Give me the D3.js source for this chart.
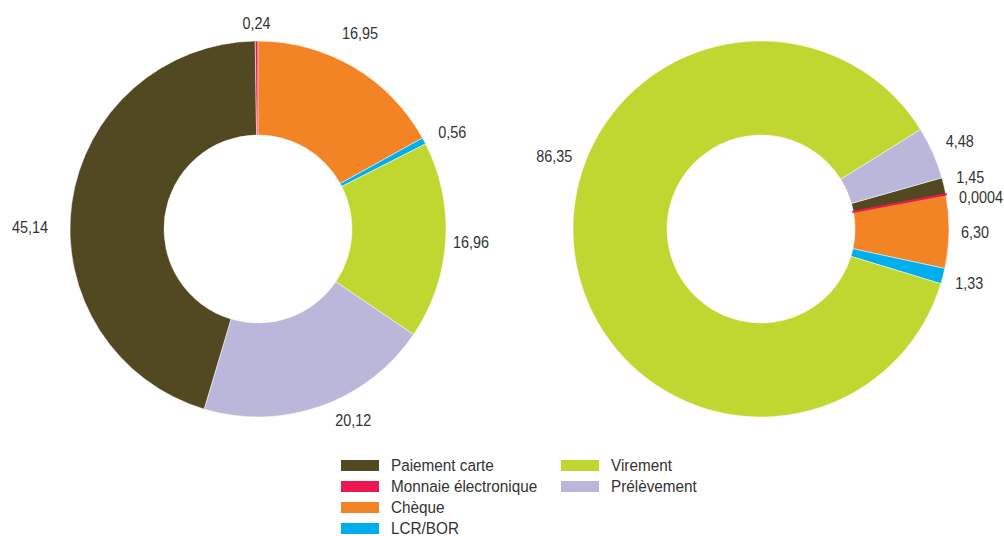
<!DOCTYPE html>
<html>
<head>
<meta charset="utf-8">
<script src="https://cdn.jsdelivr.net/npm/d3@7"></script>
<style>
  body { margin: 0; background: #fff; }
  svg { display: block; }
  text { font-family: "Liberation Sans", Arial, sans-serif; fill: #333; }
</style>
</head>
<body>
<svg id="chart" width="1004" height="536"></svg>
<script>
// Payment instruments, in drawing order (clockwise)
const categories = ["Paiement carte", "Monnaie électronique", "Chèque", "LCR/BOR", "Virement", "Prélèvement"];
const colors = ["#524822", "#ed1651", "#f28425", "#00aeef", "#bfd730", "#bbb7da"];

// Shares (%) for each instrument
const valuesLeft  = [45.14, 0.24, 16.95, 0.56, 16.96, 20.12];
const valuesRight = [1.45, 0.0004, 6.30, 1.33, 86.35, 4.48];

// Legend layout: two columns
const legendColumns = [
  ["Paiement carte", "Monnaie électronique", "Chèque", "LCR/BOR"],
  ["Virement", "Prélèvement"]
];

const svg = d3.select("#chart");
const outerR = 188, innerR = 94;
const condense = 0.9;  // narrow face look

const locale = d3.formatLocale({ decimal: ",", thousands: " ", grouping: [3], currency: ["", " €"] });
const fmt = v => locale.format(v < 0.01 ? ".4f" : ".2f")(v);

// label nudges per slice: [angle shift in degrees, extra radial distance]
const donuts = [
  { values: valuesLeft, cx: 258, cy: 229, startDeg: -163.4,
    nudge: { "Paiement carte": [-7.4, 10], "Prélèvement": [-6.9, 0], "Chèque": [-3, 7], "LCR/BOR": [1.4, 2], "Virement": [0, -5] } },
  { values: valuesRight, cx: 761, cy: 229, startDeg: 74.2,
    nudge: { "Virement": [26.8, 0], "Prélèvement": [0, 2], "Monnaie électronique": [1.5, 0] } }
];

const arc = d3.arc().innerRadius(innerR).outerRadius(outerR);
const colorOf = d3.scaleOrdinal().domain(categories).range(colors);

// slices narrower than a pixel get an outline in their own colour so they stay visible
const arcPx = d => (d.endAngle - d.startAngle) * outerR;
const isHairline = d => arcPx(d) < 1;

donuts.forEach(dn => {
  const s = dn.startDeg * Math.PI / 180;
  const pie = d3.pie().sort(null).value(d => d.v).startAngle(s).endAngle(s + 2 * Math.PI);
  const rows = categories.map((c, i) => ({ c, v: dn.values[i] }));
  const arcs = pie(rows);

  const g = svg.append("g").attr("transform", `translate(${dn.cx},${dn.cy})`);

  g.selectAll("path")
    .data(arcs)
    .join("path")
    .attr("d", arc)
    .attr("fill", d => colorOf(d.data.c))
    .attr("stroke", d => isHairline(d) ? colorOf(d.data.c) : "#fff")
    .attr("stroke-width", d => isHairline(d) ? 2.2 : 0.5)
    .attr("stroke-linejoin", "miter")
    .filter(isHairline)
    .raise();

  // value labels outside each slice
  const texts = g.selectAll("text.val")
    .data(arcs)
    .join("text")
    .attr("class", "val")
    .attr("text-anchor", "middle")
    .style("font-size", "16px")
    .text(d => fmt(d.data.v));

  const gap = 12, hh = 6;
  const labs = [];
  texts.each(function (a) {
    const w = this.getComputedTextLength() * condense;
    const nd = dn.nudge[a.data.c] || [0, 0];
    const th = (a.startAngle + a.endAngle) / 2 + nd[0] * Math.PI / 180;
    const dist = outerR + gap + (w / 2) * Math.abs(Math.sin(th)) + hh * Math.abs(Math.cos(th)) + nd[1];
    labs.push({ node: this, x: dist * Math.sin(th), y: -dist * Math.cos(th), side: Math.sin(th) > 0 ? 1 : -1 });
  });

  // keep labels of thin neighbouring slices from overlapping
  [1, -1].forEach(side => {
    const grp = labs.filter(l => l.side === side).sort((a, b) => a.y - b.y);
    const minGap = 20;
    for (let k = 0; k < 30; k++) {
      for (let i = 1; i < grp.length; i++) {
        const o = minGap - (grp[i].y - grp[i - 1].y);
        if (o > 0) { grp[i].y += o / 2; grp[i - 1].y -= o / 2; }
      }
    }
  });

  labs.forEach(l => {
    d3.select(l.node).attr("transform", `translate(${l.x},${l.y + 5.7}) scale(${condense},1)`);
  });
});

// legend
const rowY = d3.scaleLinear().domain([0, 1]).range([465.5, 486.5]);
const colX = [341, 561];
legendColumns.forEach((col, ci) => {
  const lg = svg.append("g");
  col.forEach((name, ri) => {
    const y = rowY(ri);
    lg.append("rect")
      .attr("x", colX[ci]).attr("y", y - 5.5)
      .attr("width", 38).attr("height", 11)
      .attr("fill", colorOf(name));
    lg.append("text")
      .attr("transform", `translate(${colX[ci] + 50},${y + 5.5}) scale(${condense},1)`)
      .style("font-size", "17px")
      .text(name);
  });
});
</script>
</body>
</html>
